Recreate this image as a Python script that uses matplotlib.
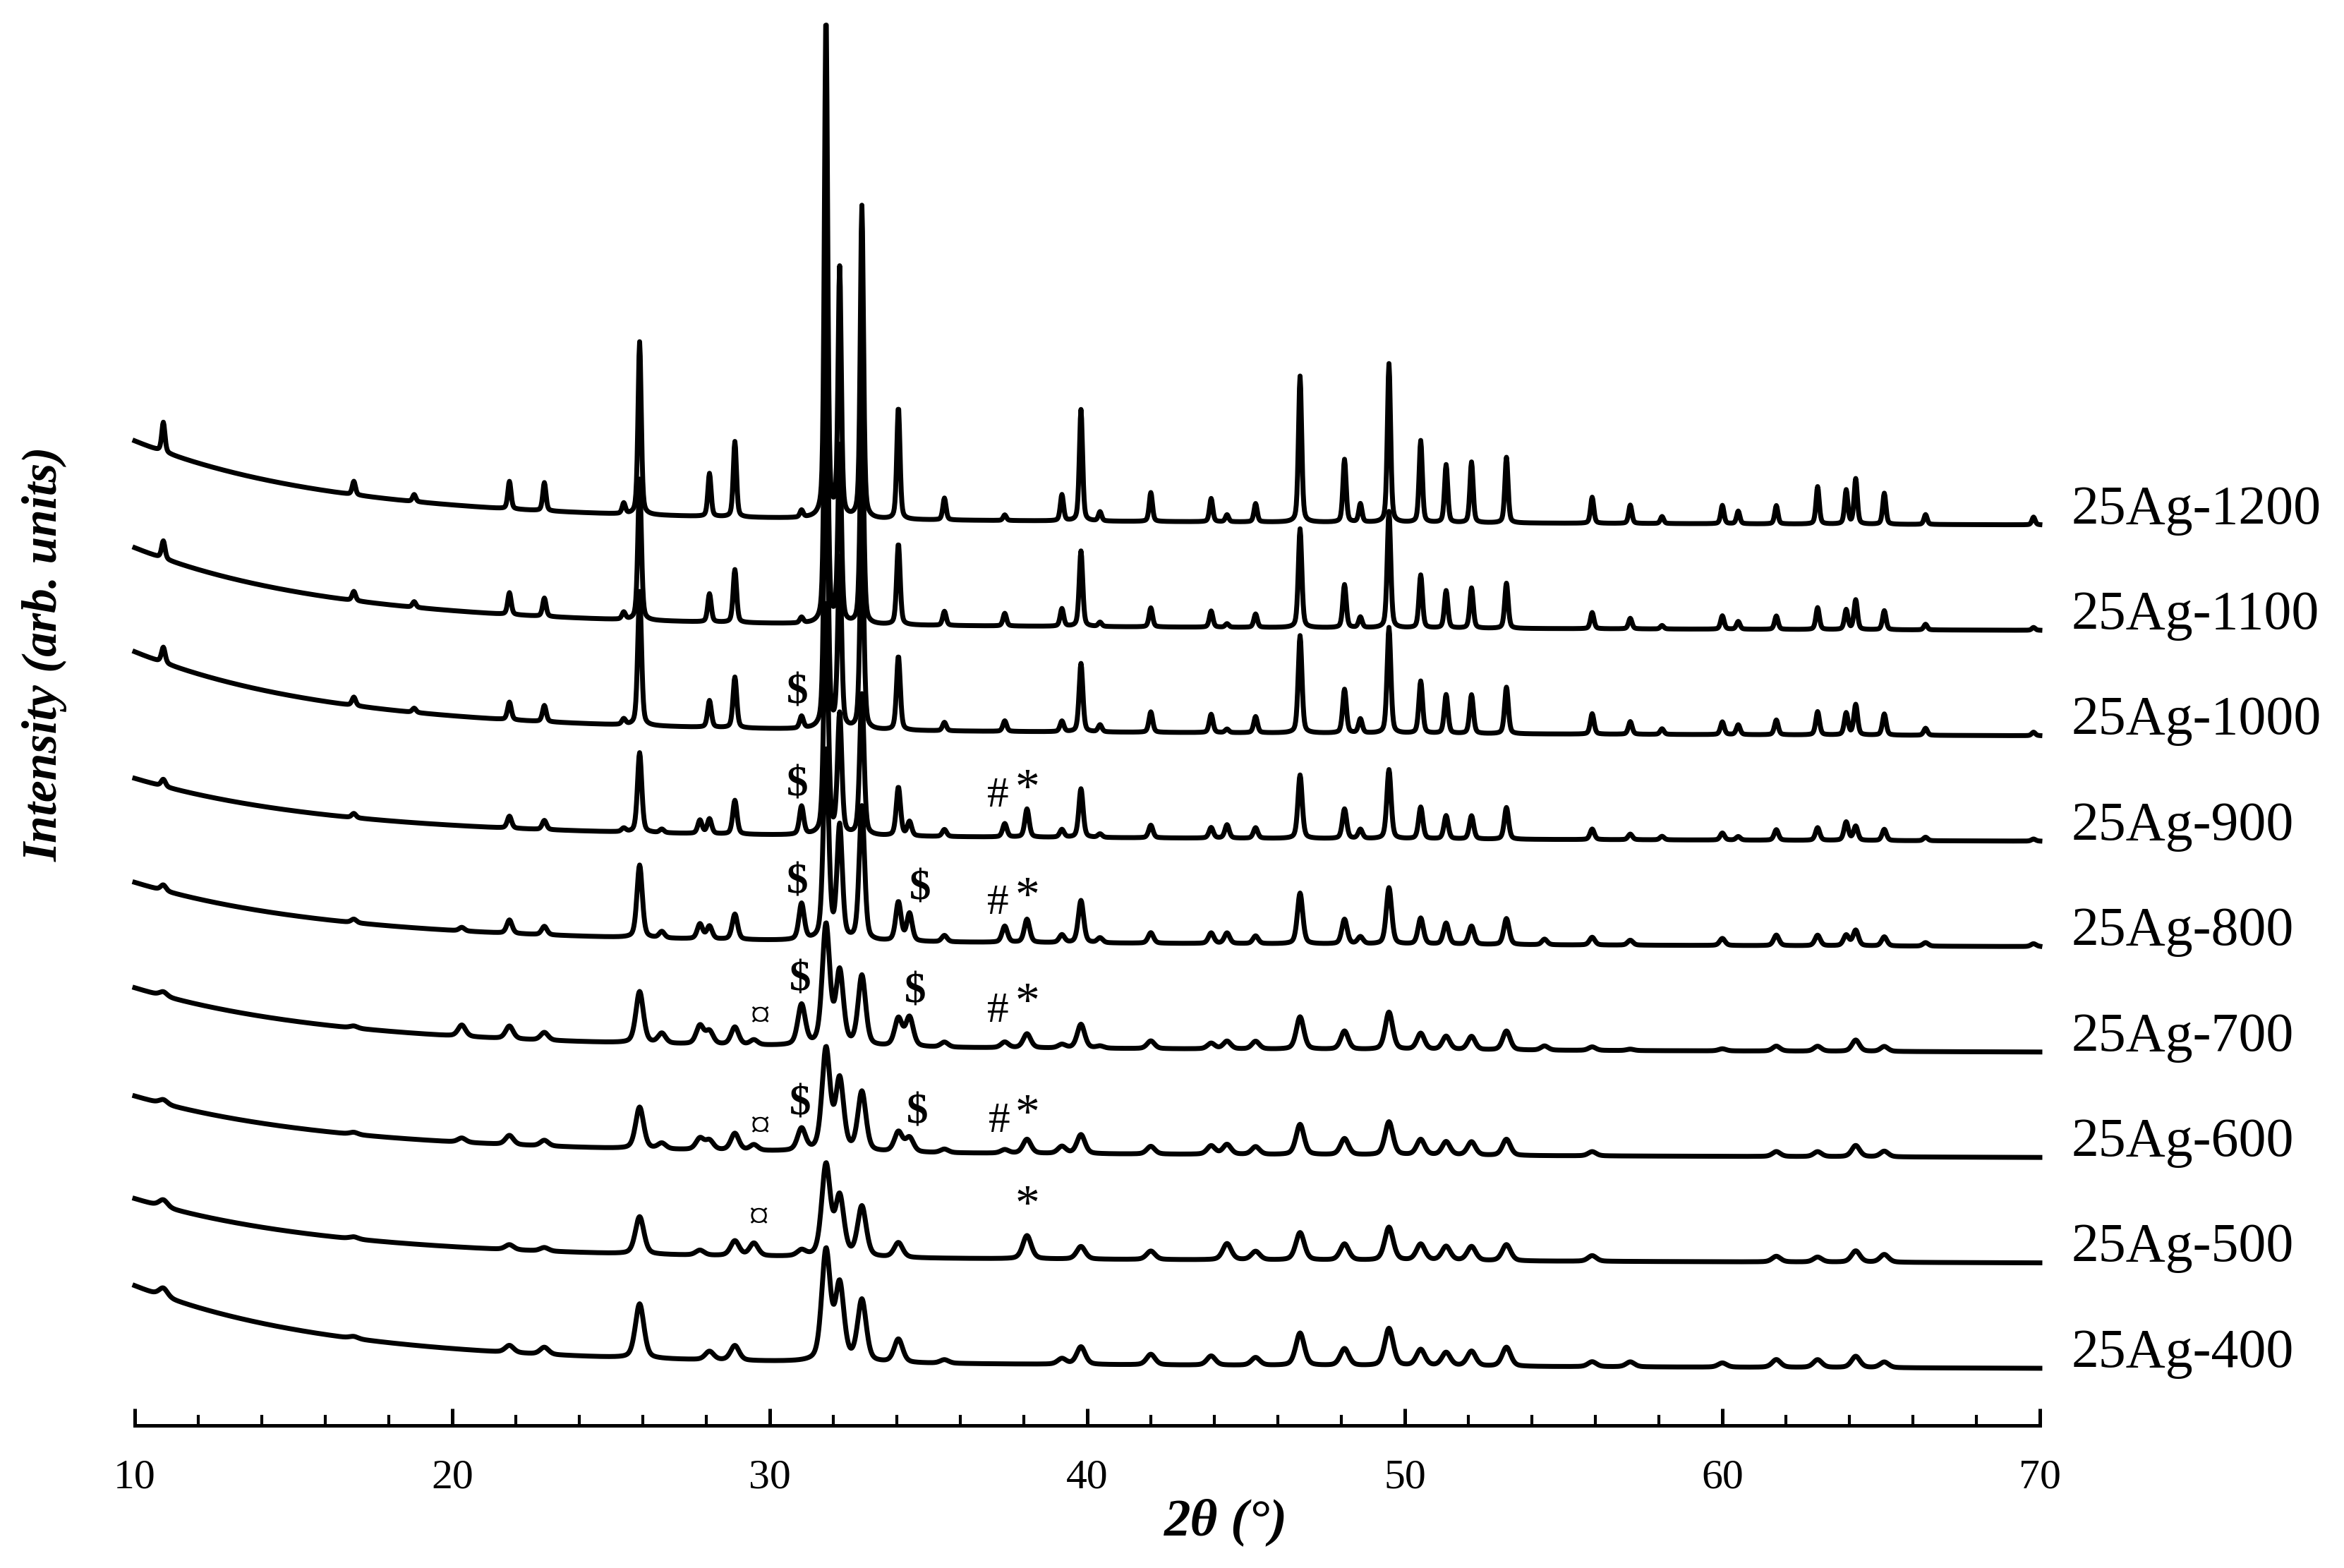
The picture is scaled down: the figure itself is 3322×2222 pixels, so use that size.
import numpy as np
import matplotlib
matplotlib.use("Agg")
import matplotlib.pyplot as plt
from matplotlib.ticker import MultipleLocator

# Peak positions (2theta, deg) used for every pattern
PEAK_POS = [10.9, 16.9, 18.8, 20.3, 21.8, 22.9, 25.4, 25.9, 26.6, 27.8,
            28.1, 28.9, 29.5, 31.0, 31.77, 32.2, 32.9, 34.05, 34.4, 35.5,
            37.4, 38.1, 39.2, 39.8, 40.4, 42.0, 43.9, 44.4, 45.3, 46.7,
            48.1, 48.6, 49.5, 50.5, 51.3, 52.1, 53.2, 54.4, 55.9, 57.1,
            58.1, 60.0, 60.5, 61.7, 63.0, 63.9, 64.2, 65.1, 66.4, 69.8]

# Peak heights (arb. units)
H_400 = [12, 3, 0, 0, 10, 10, 0, 77, 0, 0,
         12, 21, 0, 0, 156, 107, 87, 33, 0, 5,
         0, 0, 8, 25, 0, 15, 13, 0, 11, 46,
         24, 0, 53, 23, 19, 21, 27, 0, 7, 7,
         0, 6, 0, 11, 11, 0, 16, 8, 0, 0]
H_500 = [10, 3, 0, 0, 7, 5, 0, 53, 0, 7,
         0, 21, 18, 8, 129, 83, 71, 21, 0, 0,
         0, 33, 0, 18, 0, 12, 0, 23, 12, 39,
         23, 0, 47, 23, 20, 20, 23, 0, 8, 0,
         0, 0, 0, 8, 7, 0, 16, 11, 0, 0]
H_600 = [6, 3, 0, 6, 13, 8, 0, 59, 8, 16,
         13, 24, 8, 31, 144, 100, 84, 28, 20, 5,
         5, 20, 10, 27, 0, 11, 12, 14, 11, 43,
         23, 0, 47, 22, 19, 19, 23, 0, 6, 0,
         0, 0, 0, 7, 7, 0, 16, 8, 0, 0]
H_700 = [6, 3, 0, 16, 18, 11, 0, 73, 14, 26,
         18, 25, 7, 57, 170, 103, 99, 39, 41, 7,
         8, 20, 5, 34, 3, 11, 8, 11, 11, 46,
         26, 0, 53, 23, 19, 19, 27, 6, 5, 2,
         0, 3, 0, 7, 7, 0, 16, 7, 0, 0]
H_800 = [8, 5, 0, 5, 19, 12, 0, 103, 9, 21,
         18, 36, 0, 51, 270, 160, 190, 55, 39, 9,
         23, 33, 11, 60, 7, 15, 15, 15, 11, 72,
         35, 10, 80, 37, 30, 26, 37, 8, 11, 7,
         0, 10, 0, 15, 15, 15, 22, 13, 5, 4]
H_900 = [10, 6, 0, 0, 17, 13, 5, 113, 5, 19,
         21, 48, 0, 40, 330, 170, 200, 69, 20, 10,
         19, 40, 11, 69, 5, 18, 15, 19, 15, 90,
         42, 13, 98, 45, 33, 33, 45, 0, 15, 8,
         5, 10, 5, 15, 18, 26, 20, 16, 5, 3]
H_1000 = [22, 12, 6, 0, 25, 23, 8, 190, 0, 0,
          38, 72, 0, 17, 470, 240, 290, 105, 0, 12,
          15, 0, 15, 97, 10, 29, 26, 5, 23, 138,
          62, 20, 150, 74, 55, 55, 66, 0, 29, 18,
          8, 18, 14, 21, 33, 31, 43, 30, 10, 5]
H_1100 = [25, 13, 8, 0, 31, 26, 10, 200, 0, 0,
          40, 75, 0, 8, 500, 250, 310, 115, 0, 20,
          18, 0, 25, 107, 6, 27, 23, 5, 19, 140,
          61, 15, 165, 75, 53, 57, 64, 0, 23, 15,
          5, 19, 11, 19, 31, 28, 42, 27, 8, 4]
H_1200 = [42, 19, 10, 0, 39, 40, 15, 245, 0, 0,
          61, 107, 0, 10, 712, 352, 443, 159, 0, 31,
          8, 0, 37, 158, 13, 41, 33, 10, 26, 207,
          89, 26, 225, 116, 82, 86, 93, 0, 37, 26,
          10, 26, 18, 26, 53, 48, 64, 44, 14, 11]

SAMPLES = ["25Ag-400", "25Ag-500", "25Ag-600", "25Ag-700", "25Ag-800",
           "25Ag-900", "25Ag-1000", "25Ag-1100", "25Ag-1200"]
HEIGHTS = [H_400, H_500, H_600, H_700, H_800, H_900, H_1000, H_1100, H_1200]
FWHM = [0.32, 0.32, 0.30, 0.28, 0.20, 0.16, 0.14, 0.13, 0.12]
BG_START = [117, 91, 87, 91, 91, 89, 119, 117, 119]   # background level at 10 deg

# phase markers: (sample, symbol, 2theta, height above the pattern baseline)
MARKS = [
    ("25Ag-1000", "$", 30.87, 61),
    ("25Ag-900", "$", 30.87, 79), ("25Ag-900", "#", 37.18, 64), ("25Ag-900", "*", 38.12, 72),
    ("25Ag-800", "$", 30.87, 91), ("25Ag-800", "$", 34.73, 82),
    ("25Ag-800", "#", 37.18, 61), ("25Ag-800", "*", 38.12, 68),
    ("25Ag-700", "\u00a4", 29.69, 49), ("25Ag-700", "$", 30.96, 102), ("25Ag-700", "$", 34.59, 85),
    ("25Ag-700", "#", 37.18, 58), ("25Ag-700", "*", 38.12, 68),
    ("25Ag-600", "\u00a4", 29.69, 42), ("25Ag-600", "$", 30.96, 76), ("25Ag-600", "$", 34.64, 64),
    ("25Ag-600", "#", 37.23, 51), ("25Ag-600", "*", 38.12, 59),
    ("25Ag-500", "\u00a4", 29.64, 62), ("25Ag-500", "*", 38.12, 79),
]

SERIF = ["Liberation Serif", "DejaVu Serif"]
plt.rcParams["font.family"] = SERIF

FIRST_BASE = 81
STEP = 149.4

# symbol styling
SYM_STYLE = {"$": (44, "bold"), "#": (44, "normal"), "*": (50, "normal"),
             "\u00a4": (42, "normal")}


def pattern(x, heights, fwhm, bg0):
    y = (bg0 - 9) * np.exp(-(x - 10) / 6.0) + 0.15 * (70 - x)
    for p, h in zip(PEAK_POS, heights):
        if h == 0:
            continue
        d = (x - p) / fwhm
        y += h * (0.6 * np.exp(-4 * np.log(2) * d ** 2) + 0.4 / (1 + 4 * d ** 2))
    return y


fig = plt.figure(figsize=(33.23, 22.22), dpi=100)
ax = fig.add_axes([191 / 3323, 202 / 2222, 2700 / 3323, 2010 / 2222])

x = np.arange(10, 70.001, 0.02)
for i, name in enumerate(SAMPLES):
    base = FIRST_BASE + i * STEP
    y = pattern(x, HEIGHTS[i], FWHM[i], BG_START[i]) + base
    ax.plot(x, y, color="black", lw=5.0, solid_joinstyle="round", clip_on=False)
    ax.text(71.0, base + 21, name, fontsize=56, ha="left", va="center",
            clip_on=False)

for name, sym, pos, dy in MARKS:
    base = FIRST_BASE + SAMPLES.index(name) * STEP
    size, weight = SYM_STYLE[sym]
    ax.text(pos, base + dy, sym, fontsize=size, weight=weight,
            ha="center", va="center", family=SERIF)

ax.set_xlim(10, 70)
ax.set_ylim(0, 2010)
for side in ["left", "right", "top"]:
    ax.spines[side].set_visible(False)
ax.spines["bottom"].set_linewidth(3.6)
ax.set_yticks([])
ax.xaxis.set_major_locator(MultipleLocator(10))
ax.xaxis.set_minor_locator(MultipleLocator(2))
ax.tick_params(axis="x", which="major", direction="in", length=17, width=3.6,
               labelsize=43, pad=34)
ax.tick_params(axis="x", which="minor", direction="in", length=11, width=3.0)

fig.text(0.523, 0.0293, "2\u03b8 (\u00b0)", fontsize=54, style="italic",
         weight="bold", ha="center", va="center")
fig.text(0.0191, 0.583, "Intensity (arb. units)", fontsize=50, style="italic",
         weight="bold", ha="center", va="center", rotation=90)

fig.savefig("out.png", dpi=100)
